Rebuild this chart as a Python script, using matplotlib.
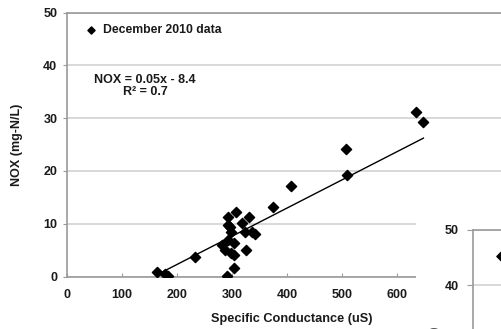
import numpy as np
import matplotlib.pyplot as plt
from matplotlib.patches import Rectangle

plt.rcParams['font.family'] = ['Liberation Sans', 'DejaVu Sans']
plt.rcParams['font.weight'] = 'bold'
plt.rcParams['axes.labelweight'] = 'bold'

# December 2010 samples: specific conductance (uS) vs NOX (mg-N/L)
conductance = [163, 178, 184, 233, 282, 287, 291, 292, 292, 293, 296, 298,
               299, 303, 304, 304, 307, 318, 324, 325, 331, 336, 341, 375,
               408, 507, 509, 635, 648]
nox = [0.9, 0.4, 0.15, 3.6, 6.0, 5.1, 0.1, 11.3, 7.0, 9.75, 9.4, 8.5,
       4.4, 4.1, 6.3, 1.55, 12.2, 10.2, 8.4, 5.0, 11.3, 8.5, 8.0, 13.2,
       17.2, 24.1, 19.2, 31.2, 29.2]

# linear trendline
slope = 0.0534
intercept = -8.4
r2 = 0.7

x_ticks = [0, 100, 200, 300, 400, 500, 600]
y_ticks = [0, 10, 20, 30, 40, 50]

W, H = 501, 329
fig = plt.figure(figsize=(W / 100, H / 100), dpi=100, facecolor='white')

def px_box(left, top, right, bottom):
    return [left / W, (H - bottom) / H, (right - left) / W, (bottom - top) / H]

text_col = '#1a1a1a'
grid_col = '#d6d6d6'
axis_col = '#9a9a9a'

ax = fig.add_axes(px_box(67, 12.5, 507, 276.5))
ax.set_xlim(0, 800)
ax.set_ylim(0, 50)
ax.set_xticks(x_ticks)
ax.set_yticks(y_ticks)
ax.yaxis.grid(True, color=grid_col, lw=1.3)
ax.set_axisbelow(True)
ax.spines['right'].set_visible(False)
for side in ['top', 'left', 'bottom']:
    ax.spines[side].set_color(axis_col)
    ax.spines[side].set_linewidth(1.2)
ax.tick_params(axis='x', direction='in', length=3, color=axis_col,
               pad=9, labelsize=9, labelcolor=text_col)
ax.tick_params(axis='y', direction='out', length=3, color=axis_col,
               pad=4, labelsize=9, labelcolor=text_col)

ax.scatter(conductance, nox, marker='D', s=27, color='black', zorder=3,
           label='December 2010 data')
xs = np.array([min(conductance), max(conductance)])
ax.plot(xs, slope * xs + intercept, color='black', lw=1.0, zorder=2)

eq = f'NOX = {slope:.2f}x - {abs(intercept):.1f}\nR\u00b2 = {r2:.1f}'
fig.text(145 / W, (H - 86) / H, eq, fontsize=9, color=text_col,
         ha='center', va='center', linespacing=1.05)

leg = ax.legend(loc='upper left', bbox_to_anchor=(0.009, 0.983), frameon=False,
                fontsize=8.8, handletextpad=0.0, borderaxespad=0.2,
                markerscale=0.7)
for t in leg.get_texts():
    t.set_color(text_col)

ax.set_ylabel('NOX (mg-N/L)', fontsize=9, color=text_col)
ax.yaxis.set_label_coords(-44 / 440, 0.5)
ax.set_xlabel('Specific Conductance (uS)', fontsize=9.2, color=text_col, va='center')
ax.xaxis.set_label_coords((292 - 67) / 440, -(319 - 276.5) / 264)

# neighbouring chart overlapping the lower right corner
fig.patches.append(Rectangle((416 / W, 0), 85 / W, (H - 196) / H,
                             transform=fig.transFigure, facecolor='white',
                             edgecolor='none', zorder=5))

ax2 = fig.add_axes(px_box(473, 230, 560, 505))
ax2.set_zorder(6)
ax2.set_xlim(0, 800)
ax2.set_ylim(0, 50)
ax2.set_yticks(y_ticks)
ax2.set_xticks([])
ax2.yaxis.grid(True, color=grid_col, lw=1.3)
ax2.set_axisbelow(True)
ax2.spines['right'].set_visible(False)
ax2.spines['bottom'].set_visible(False)
for side in ['top', 'left']:
    ax2.spines[side].set_color(axis_col)
    ax2.spines[side].set_linewidth(1.2)
ax2.tick_params(axis='y', direction='out', length=4, color=axis_col,
                pad=6, labelsize=9, labelcolor=text_col)
ax2.scatter([255], [45.3], marker='D', s=22, color='black', clip_on=False)
ax2.text(248, 36.6, 'NOX', fontsize=8, color=text_col, ha='left', va='center')
ax2.set_ylabel('NOX (mg-N/L)', fontsize=9, color=text_col)
ax2.yaxis.set_label_coords(-32 / 87, 0.5)

fig.savefig('out.png', dpi=100, facecolor='white')
